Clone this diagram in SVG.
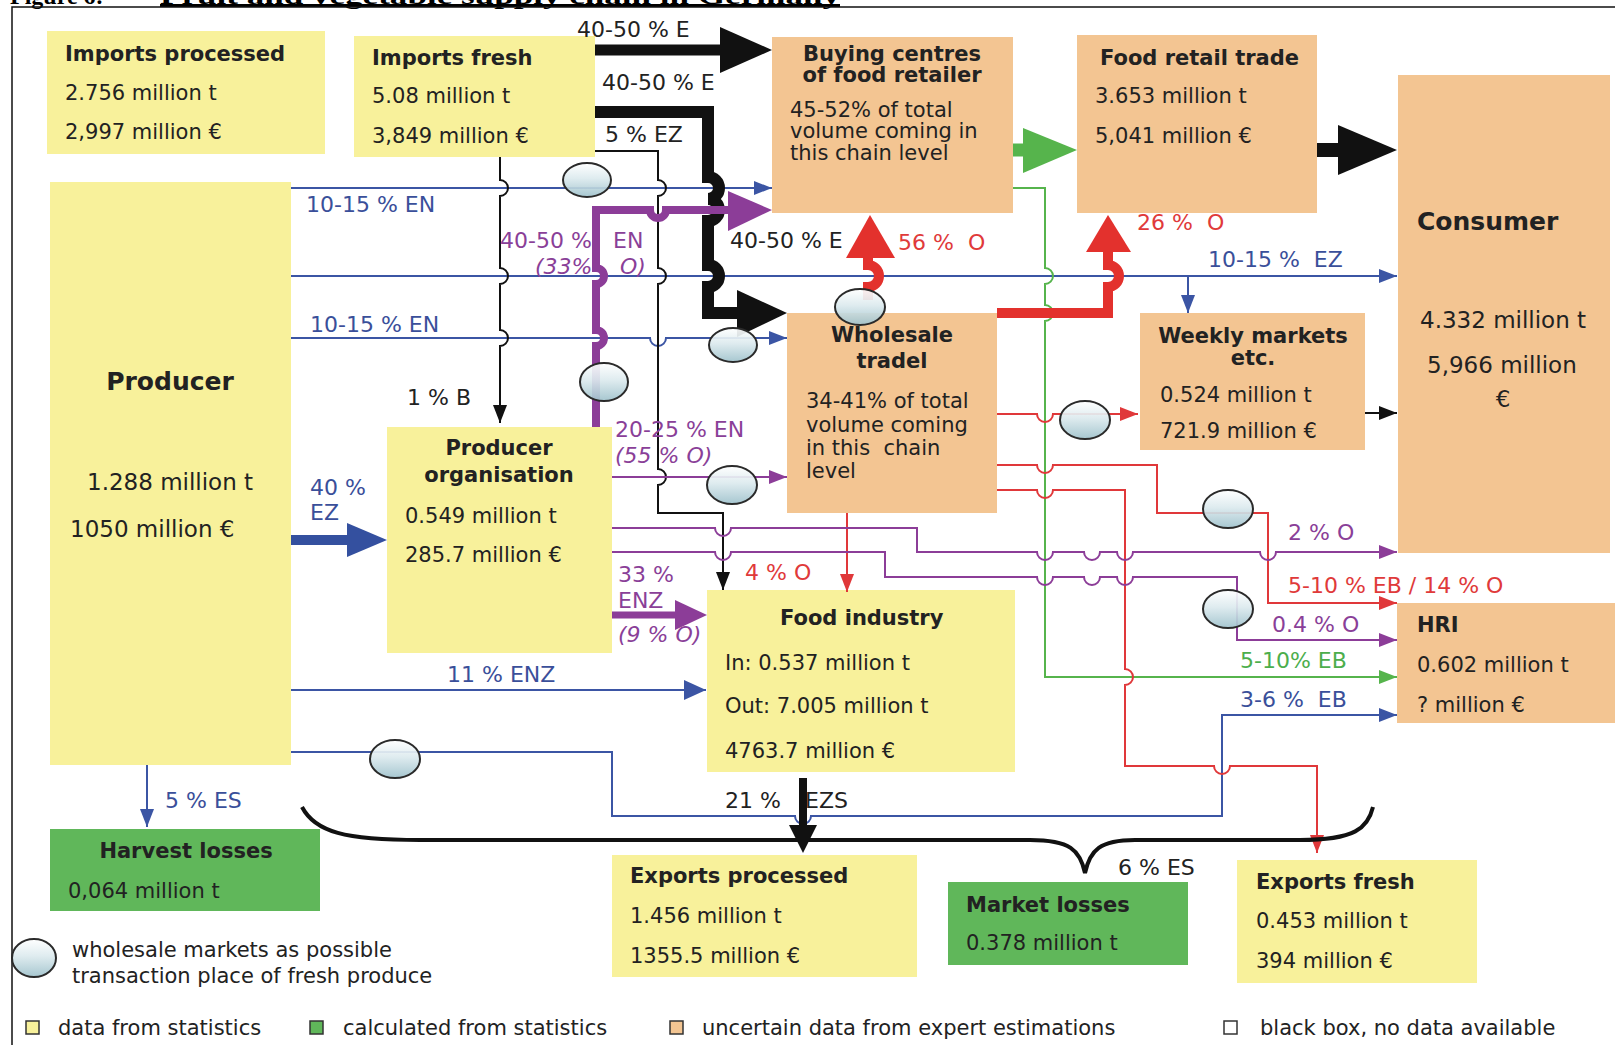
<svg xmlns="http://www.w3.org/2000/svg" width="1615" height="1045" viewBox="0 0 1615 1045">
<style>
.t{font-family:"DejaVu Sans","Liberation Sans",sans-serif;font-size:21px;fill:#222}
.b{font-weight:bold}
.c{text-anchor:middle}
.big{font-size:25px}
.mid{font-size:23px}
.lab{font-family:"DejaVu Sans","Liberation Sans",sans-serif;font-size:22px}
.it{font-style:italic}
.lb{fill:#3a4f9a}.lp{fill:#8a3f98}.lr{fill:#e03a3a}.lg{fill:#4cae4c}.lk{fill:#222}
.yel{fill:#f8f19b}.pch{fill:#f3c592}.grn{fill:#60b75a}
.ln{fill:none;stroke-width:2}
.bl{stroke:#3b55a4}.pu{stroke:#8c3d98}.rd{stroke:#e0383a}.gn{stroke:#56b44c}.bk{stroke:#111}
.mk{fill:url(#wg);stroke:#2a2a2a;stroke-width:2;fill-opacity:0.92}
.ttl{font-family:"Liberation Serif",serif;font-weight:bold;font-size:24px;fill:#000}
</style>
<defs>
<linearGradient id="wg" x1="0" y1="0" x2="0" y2="1">
<stop offset="0" stop-color="#ffffff"/><stop offset="0.45" stop-color="#dceaee"/><stop offset="1" stop-color="#9fc2cc"/>
</linearGradient>
<marker id="ab" viewBox="0 0 18 14" refX="18" refY="7" markerWidth="18" markerHeight="14" markerUnits="userSpaceOnUse" orient="auto"><path d="M0,0L18,7L0,14z" fill="#3b55a4"/></marker>
<marker id="ab2" viewBox="0 0 22 20" refX="22" refY="10" markerWidth="22" markerHeight="20" markerUnits="userSpaceOnUse" orient="auto"><path d="M0,0L22,10L0,20z" fill="#3b55a4"/></marker>
<marker id="ak" viewBox="0 0 18 14" refX="18" refY="7" markerWidth="18" markerHeight="14" markerUnits="userSpaceOnUse" orient="auto"><path d="M0,0L18,7L0,14z" fill="#111"/></marker>
<marker id="ar" viewBox="0 0 18 14" refX="18" refY="7" markerWidth="18" markerHeight="14" markerUnits="userSpaceOnUse" orient="auto"><path d="M0,0L18,7L0,14z" fill="#e0383a"/></marker>
<marker id="ap" viewBox="0 0 18 14" refX="18" refY="7" markerWidth="18" markerHeight="14" markerUnits="userSpaceOnUse" orient="auto"><path d="M0,0L18,7L0,14z" fill="#8c3d98"/></marker>
<marker id="ag" viewBox="0 0 18 14" refX="18" refY="7" markerWidth="18" markerHeight="14" markerUnits="userSpaceOnUse" orient="auto"><path d="M0,0L18,7L0,14z" fill="#56b44c"/></marker>
</defs>
<rect width="1615" height="1045" fill="#fff"/>
<!-- partially visible caption at top edge -->
<g id="caption">
<text class="ttl" x="10" y="4">Figure 6:</text>
<text class="ttl" x="160" y="4" textLength="680" lengthAdjust="spacingAndGlyphs">Fruit and vegetable supply chain in Germany</text>
<rect x="160" y="4" width="680" height="3" fill="#000"/>
</g>
<rect x="12" y="7" width="1620" height="1060" fill="none" stroke="#111" stroke-width="1.5"/>

<!-- nodes: boxes -->
<g id="imports-processed"><rect class="yel" x="47" y="31" width="278" height="123"/>
<text class="t b" x="65" y="61">Imports processed</text><text class="t" x="65" y="100">2.756 million t</text><text class="t" x="65" y="139">2,997 million €</text></g>
<g id="imports-fresh"><rect class="yel" x="354" y="36" width="241" height="121"/>
<text class="t b" x="372" y="65">Imports fresh</text><text class="t" x="372" y="103">5.08 million t</text><text class="t" x="372" y="143">3,849 million €</text></g>
<g id="buying-centres"><rect class="pch" x="772" y="37" width="241" height="176"/>
<text class="t b c" x="892" y="61">Buying centres</text><text class="t b c" x="892" y="82">of food retailer</text>
<text class="t" x="790" y="117">45-52% of total</text><text class="t" x="790" y="138">volume coming in</text><text class="t" x="790" y="160">this chain level</text></g>
<g id="food-retail"><rect class="pch" x="1077" y="35" width="240" height="178"/>
<text class="t b" x="1100" y="65">Food retail trade</text><text class="t" x="1095" y="103">3.653 million t</text><text class="t" x="1095" y="143">5,041 million €</text></g>
<g id="consumer"><rect class="pch" x="1398" y="75" width="212" height="478"/>
<text class="t b big" x="1417" y="230">Consumer</text><text class="t mid" x="1420" y="328">4.332 million t</text>
<text class="t mid" x="1427" y="373">5,966 million</text><text class="t mid c" x="1503" y="407">€</text></g>
<g id="producer"><rect class="yel" x="50" y="182" width="241" height="583"/>
<text class="t b big c" x="170" y="390">Producer</text><text class="t mid" x="87" y="490">1.288 million t</text><text class="t mid" x="70" y="537">1050 million €</text></g>
<g id="wholesale"><rect class="pch" x="787" y="313" width="210" height="200"/>
<text class="t b c" x="892" y="342">Wholesale</text><text class="t b c" x="892" y="368">tradel</text>
<text class="t" x="806" y="408">34-41% of total</text><text class="t" x="806" y="432">volume coming</text><text class="t" x="806" y="455" xml:space="preserve">in this  chain</text><text class="t" x="806" y="478">level</text></g>
<g id="weekly-markets"><rect class="pch" x="1140" y="313" width="225" height="137"/>
<text class="t b c" x="1253" y="343">Weekly markets</text><text class="t b c" x="1253" y="365">etc.</text>
<text class="t" x="1160" y="402">0.524 million t</text><text class="t" x="1160" y="438">721.9 million €</text></g>
<g id="producer-organisation"><rect class="yel" x="387" y="427" width="225" height="226"/>
<text class="t b c" x="499" y="455">Producer</text><text class="t b c" x="499" y="482">organisation</text>
<text class="t" x="405" y="523">0.549 million t</text><text class="t" x="405" y="562">285.7 million €</text></g>
<g id="food-industry"><rect class="yel" x="707" y="590" width="308" height="182"/>
<text class="t b" x="780" y="625">Food industry</text><text class="t" x="725" y="670">In: 0.537 million t</text>
<text class="t" x="725" y="713">Out: 7.005 million t</text><text class="t" x="725" y="758">4763.7 million €</text></g>
<g id="hri"><rect class="pch" x="1397" y="603" width="218" height="120"/>
<text class="t b" x="1417" y="632">HRI</text><text class="t" x="1417" y="672">0.602 million t</text><text class="t" x="1417" y="712">? million €</text></g>
<g id="harvest-losses"><rect class="grn" x="50" y="829" width="270" height="82"/>
<text class="t b c" x="186" y="858">Harvest losses</text><text class="t" x="68" y="898">0,064 million t</text></g>
<g id="exports-processed"><rect class="yel" x="612" y="855" width="305" height="122"/>
<text class="t b" x="630" y="883">Exports processed</text><text class="t" x="630" y="923">1.456 million t</text><text class="t" x="630" y="963">1355.5 million €</text></g>
<g id="market-losses"><rect class="grn" x="948" y="882" width="240" height="83"/>
<text class="t b" x="966" y="912">Market losses</text><text class="t" x="966" y="950">0.378 million t</text></g>
<g id="exports-fresh"><rect class="yel" x="1237" y="860" width="240" height="123"/>
<text class="t b" x="1256" y="889">Exports fresh</text><text class="t" x="1256" y="928">0.453 million t</text><text class="t" x="1256" y="968">394 million €</text></g>

<!-- connectors -->
<g id="connectors">
<path class="ln bl" d="M291,188H772" marker-end="url(#ab)"/>
<path class="ln bl" d="M291,276H1397" marker-end="url(#ab)"/>
<path class="ln bl" d="M1188,276V313" marker-end="url(#ab)"/>
<path class="ln bl" d="M291,338H650a8,8 0 0 0 16,0H787" marker-end="url(#ab)"/>
<path class="ln bl" d="M291,690H706" stroke-width="3" marker-end="url(#ab2)"/>
<path class="ln bl" d="M291,752H612V816H795a8,8 0 0 0 16,0H1222V715H1397" marker-end="url(#ab)"/>
<path class="ln bl" d="M147,765V827" marker-end="url(#ab)"/>
<path d="M291,540H352" stroke="#34509f" stroke-width="10"/>
<polygon points="347,523 387,540 347,557" fill="#34509f"/>
<path class="ln bk" d="M500,157V180a8,8 0 0 1 0,16V268a8,8 0 0 1 0,16V330a8,8 0 0 1 0,16V423" marker-end="url(#ak)"/>
<path class="ln bk" d="M595,151H658V180a8,8 0 0 1 0,16V268a8,8 0 0 1 0,16V469a8,8 0 0 1 0,16V513H723V590" marker-end="url(#ak)"/>
<path class="ln bk" d="M1365,413H1397" marker-end="url(#ak)"/>
<path d="M595,50H724" stroke="#111" stroke-width="11" fill="none"/>
<polygon points="720,27 772,50 720,73" fill="#111"/>
<path d="M595,112H708V177a11,11 0 0 1 0,22a11,11 0 0 1 0,22V265a11,11 0 0 1 0,22V313H740" stroke="#111" stroke-width="12" fill="none"/>
<polygon points="737,290 787,313 737,337" fill="#111"/>
<path d="M1317,150H1342" stroke="#111" stroke-width="14" fill="none"/>
<polygon points="1338,125 1397,150 1338,175" fill="#111"/>
<path d="M803,778V830" stroke="#111" stroke-width="8" fill="none"/>
<polygon points="789,825 803,853 817,825" fill="#111"/>
<path d="M1013,150H1027" stroke="#56b44c" stroke-width="13" fill="none"/>
<polygon points="1023,128 1077,150 1023,173" fill="#56b44c"/>
<path class="ln gn" d="M1013,188H1045V268a8,8 0 0 1 0,16V305a8,8 0 0 1 0,16V677H1397" marker-end="url(#ag)"/>
<path class="ln rd" d="M997,414H1037a8,8 0 0 0 16,0H1138" marker-end="url(#ar)"/>
<path class="ln rd" d="M997,465H1037a8,8 0 0 0 16,0H1157V513H1268V603H1397" marker-end="url(#ar)"/>
<path class="ln rd" d="M997,490H1037a8,8 0 0 0 16,0H1125V669a8,8 0 0 1 0,16V766H1214a8,8 0 0 0 16,0H1317V853" marker-end="url(#ar)"/>
<path class="ln rd" d="M847,513V592" marker-end="url(#ar)"/>
<path d="M868,300V287a11,11 0 0 0 0,-22V254" stroke="#e3312d" stroke-width="10" fill="none"/>
<polygon points="846,258 870,215 895,258" fill="#e3312d"/>
<path d="M997,313H1108V287a11,11 0 0 0 0,-22V248" stroke="#e3312d" stroke-width="10" fill="none"/>
<polygon points="1086,252 1108,215 1131,252" fill="#e3312d"/>
<path d="M596,427V346a8,8 0 0 0 0,-16V284a8,8 0 0 0 0,-16V210H650a8,8 0 0 0 16,0H732" stroke="#8c3d98" stroke-width="8" fill="none"/>
<polygon points="728,191 772,210 728,231" fill="#8c3d98"/>
<path d="M612,615H679" stroke="#8c3d98" stroke-width="7" fill="none"/>
<polygon points="675,600 707,615 675,630" fill="#8c3d98"/>
<path class="ln pu" d="M612,477H787" marker-end="url(#ap)"/>
<path class="ln pu" d="M612,528H715a8,8 0 0 0 16,0H917V552H1037a8,8 0 0 0 16,0H1084a8,8 0 0 0 16,0H1117a8,8 0 0 0 16,0H1260a8,8 0 0 0 16,0H1397" marker-end="url(#ap)"/>
<path class="ln pu" d="M612,552H715a8,8 0 0 0 16,0H885V577H1037a8,8 0 0 0 16,0H1084a8,8 0 0 0 16,0H1117a8,8 0 0 0 16,0H1237V640H1397" marker-end="url(#ap)"/>
<path d="M302,807C315,832 345,840 420,840H1030C1070,840 1080,850 1085,873C1090,850 1100,840 1135,840H1300C1355,840 1368,828 1373,807" fill="none" stroke="#111" stroke-width="4"/>
</g>

<g id="markets">
<ellipse class="mk" cx="587" cy="180" rx="24" ry="17"/>
<ellipse class="mk" cx="733" cy="345" rx="24" ry="17"/>
<ellipse class="mk" cx="860" cy="307" rx="25" ry="18"/>
<ellipse class="mk" cx="604" cy="382" rx="24" ry="19"/>
<ellipse class="mk" cx="732" cy="485" rx="25" ry="19"/>
<ellipse class="mk" cx="1085" cy="420" rx="25" ry="19"/>
<ellipse class="mk" cx="1228" cy="509" rx="25" ry="19"/>
<ellipse class="mk" cx="1228" cy="609" rx="25" ry="19"/>
<ellipse class="mk" cx="395" cy="759" rx="25" ry="19"/>
</g>

<g id="labels">
<text class="lab lk" x="577" y="37">40-50 % E</text>
<text class="lab lk" x="602" y="90">40-50 % E</text>
<text class="lab lk" x="605" y="142">5 % EZ</text>
<text class="lab lb" x="306" y="212">10-15 % EN</text>
<text class="lab lp" x="500" y="248">40-50 %</text><text class="lab lp" x="613" y="248">EN</text>
<text class="lab lp it" x="535" y="274">(33%</text><text class="lab lp it" x="620" y="274">O)</text>
<text class="lab lk" x="730" y="248">40-50 % E</text>
<text class="lab lr" x="898" y="250" xml:space="preserve">56 %  O</text>
<text class="lab lr" x="1137" y="230" xml:space="preserve">26 %  O</text>
<text class="lab lb" x="1208" y="267" xml:space="preserve">10-15 %  EZ</text>
<text class="lab lb" x="310" y="332">10-15 % EN</text>
<text class="lab lk" x="407" y="405">1 % B</text>
<text class="lab lp" x="615" y="437">20-25 % EN</text>
<text class="lab lp it" x="615" y="463">(55 % O)</text>
<text class="lab lb" x="310" y="495">40 %</text><text class="lab lb" x="310" y="520">EZ</text>
<text class="lab lp" x="618" y="582">33 %</text><text class="lab lp" x="618" y="608">ENZ</text>
<text class="lab lp it" x="618" y="642">(9 % O)</text>
<text class="lab lr" x="745" y="580">4 % O</text>
<text class="lab lp" x="1288" y="540">2 % O</text>
<text class="lab lr" x="1288" y="593">5-10 % EB / 14 % O</text>
<text class="lab lp" x="1272" y="632">0.4 % O</text>
<text class="lab lg" x="1240" y="668">5-10% EB</text>
<text class="lab lb" x="1240" y="707" xml:space="preserve">3-6 %  EB</text>
<text class="lab lb" x="447" y="682">11 % ENZ</text>
<text class="lab lb" x="165" y="808">5 % ES</text>
<text class="lab lk" x="725" y="808">21 %</text><text class="lab lk" x="805" y="808">EZS</text>
<text class="lab lk" x="1118" y="875">6 % ES</text>
</g>

<g id="legend">
<ellipse class="mk" cx="34" cy="958" rx="22" ry="19"/>
<text class="t" x="72" y="957">wholesale markets as possible</text>
<text class="t" x="72" y="983">transaction place of fresh produce</text>
<rect x="26" y="1021" width="13" height="13" fill="#f8f19b" stroke="#333" stroke-width="1.5"/>
<text class="t" x="58" y="1035">data from statistics</text>
<rect x="310" y="1021" width="13" height="13" fill="#60b75a" stroke="#333" stroke-width="1.5"/>
<text class="t" x="343" y="1035">calculated from statistics</text>
<rect x="670" y="1021" width="13" height="13" fill="#f3c592" stroke="#333" stroke-width="1.5"/>
<text class="t" x="702" y="1035">uncertain data from expert estimations</text>
<rect x="1224" y="1021" width="13" height="13" fill="#fff" stroke="#333" stroke-width="1.5"/>
<text class="t" x="1260" y="1035">black box, no data available</text>
</g>
</svg>
